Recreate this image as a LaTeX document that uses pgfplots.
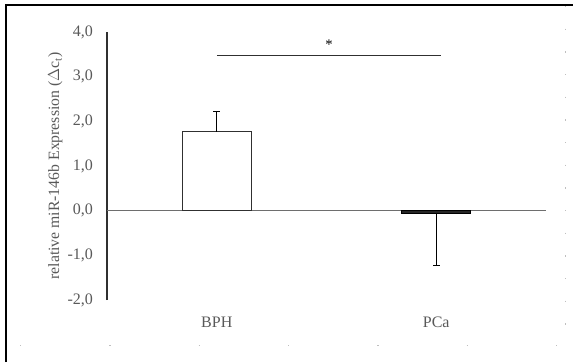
\documentclass[border=0pt]{standalone}
\usepackage{fontspec}
\setmainfont{Liberation Serif}
\usepackage{pgfplots}
\pgfplotsset{compat=1.18}

\definecolor{txtgray}{HTML}{595959}
\definecolor{zerogray}{HTML}{6E6E6E}
\definecolor{axisdark}{HTML}{303030}
\definecolor{barfill}{HTML}{262626}

\begin{document}
\begin{tikzpicture}
% page frame: 573 x 362 units of 0.75pt
\useasboundingbox (0pt,0pt) rectangle (429.75pt,271.5pt);
\draw[line width=1.6pt,black] (4.5pt,0pt) -- (4.5pt,267.75pt) -- (429.75pt,267.75pt);
\draw[black!25,line width=0.6pt,dash pattern=on 1pt off 16pt] (423.75pt,267pt) -- (423.75pt,12.75pt);
\draw[black!25,line width=0.6pt,dash pattern=on 1pt off 66pt] (15pt,12.75pt) -- (423.75pt,12.75pt);

\begin{axis}[
  at={(80.25pt,46.5pt)}, anchor=south west,
  scale only axis,
  width=329.25pt, height=201pt,
  xmin=0, xmax=2, ymin=-2, ymax=4,
  axis x line*=bottom, axis y line*=left,
  x axis line style={draw=none},
  y axis line style={draw=axisdark, line width=0.8pt, -},
  xtick={0.5,1.5}, xticklabels={BPH,PCa},
  ytick={-2,-1,0,1,2,3,4},
  major tick length=0pt,
  tick style={draw=none},
  /pgf/number format/.cd, fixed, fixed zerofill, precision=1, use comma, assume math mode=true,
  /pgfplots/.cd,
  ticklabel style={font=\fontsize{12}{14}\selectfont, text=txtgray},
  yticklabel style={xshift=-7pt},
  xticklabel style={yshift=-9pt},
  ylabel={relative miR-146b Expression ($\Delta$c\textsubscript{t})},
  ylabel style={font=\fontsize{11.8}{14}\selectfont, text=txtgray, yshift=-3pt},
  clip=false,
]
% baseline at zero
\addplot[zerogray, line width=0.9pt, forget plot] coordinates {(0,0) (2,0)};

% BPH: mean with upward error
\addplot[ybar, bar width=51.75pt, draw=axisdark, fill=white, line width=0.7pt,
  error bars/.cd, y dir=plus, y explicit, error bar style={black, line width=0.7pt},
  error mark options={rotate=90, mark size=2.5pt, black, line width=0.7pt}]
  coordinates {(0.5,1.77) +- (0,0.45)};

% PCa: mean with downward error
\addplot[ybar, bar width=51.75pt, draw=black, fill=barfill, line width=0.7pt,
  error bars/.cd, y dir=minus, y explicit, error bar style={black, line width=0.7pt},
  error mark options={rotate=90, mark size=2.5pt, black, line width=0.7pt}]
  coordinates {(1.5,-0.07) +- (0,1.15)};

% significance bracket
\addplot[axisdark, line width=0.8pt, forget plot] coordinates {(0.5,3.47) (1.52,3.47)};
\node[font=\fontsize{11}{12}\selectfont, text=black] at (axis cs:1.011,3.72) {*};
\end{axis}
\end{tikzpicture}
\end{document}
